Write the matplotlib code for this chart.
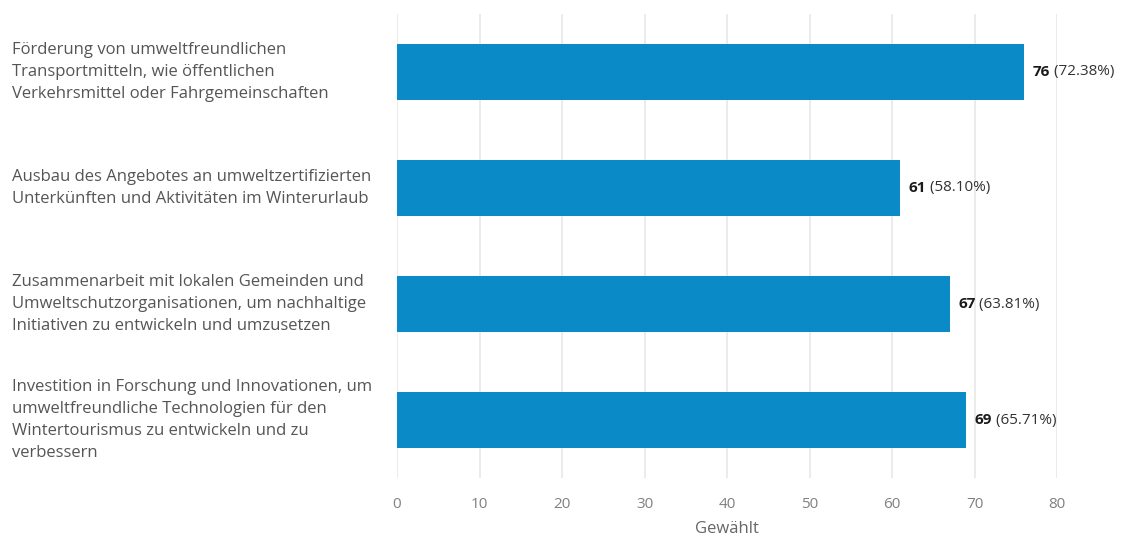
import matplotlib
matplotlib.use("Agg")
import matplotlib.pyplot as plt
from matplotlib.transforms import blended_transform_factory

plt.rcParams['font.family'] = ['Open Sans', 'DejaVu Sans']

labels = [
    "Förderung von umweltfreundlichen\nTransportmitteln, wie öffentlichen\nVerkehrsmittel oder Fahrgemeinschaften",
    "Ausbau des Angebotes an umweltzertifizierten\nUnterkünften und Aktivitäten im Winterurlaub",
    "Zusammenarbeit mit lokalen Gemeinden und\nUmweltschutzorganisationen, um nachhaltige\nInitiativen zu entwickeln und umzusetzen",
    "Investition in Forschung und Innovationen, um\numweltfreundliche Technologien für den\nWintertourismus zu entwickeln und zu\nverbessern",
]
counts = [76, 61, 67, 69]
percents = ["72.38%", "58.10%", "63.81%", "65.71%"]
xticks = [0, 10, 20, 30, 40, 50, 60, 70, 80]

bar_color = '#0a8bc8'

fig = plt.figure(figsize=(11.27, 5.38), dpi=100)
ax = fig.add_axes([0.3523, 0.1115, 0.5856, 0.8625])

ypos = list(range(len(counts)))
ax.barh(ypos, counts, height=0.475, color=bar_color, zorder=2)
ax.set_ylim(3.5, -0.5)
ax.set_xlim(0, 80)
ax.set_xticks(xticks)
ax.set_yticks([])
ax.grid(axis='x', color='#e8e8e8', linewidth=1.2, zorder=0)
for s in ax.spines.values():
    s.set_visible(False)
ax.tick_params(axis='x', length=0, pad=14, labelsize=11, labelcolor='#808080')
ax.set_xlabel("Gewählt", fontsize=12, color='#666666', labelpad=6)

# category labels at left
trans = blended_transform_factory(fig.transFigure, ax.transData)
for y, lab in zip(ypos, labels):
    ax.text(12 / 1127, y, lab, transform=trans,
            ha='left', va='center', fontsize=12, color='#555555', linespacing=1.5)

fig.canvas.draw()
renderer = fig.canvas.get_renderer()
for y, c, p in zip(ypos, counts, percents):
    t = ax.annotate(str(c), (c, y), xytext=(6, 0), textcoords='offset points',
                    ha='left', va='center', fontsize=11, fontweight='bold', color='#1a1a1a')
    w = t.get_window_extent(renderer).width
    ax.annotate(" (" + p + ")", (c, y), xytext=(6 + w * 72 / fig.dpi, 0), textcoords='offset points',
                ha='left', va='center', fontsize=11, color='#333333')

fig.savefig("out.png", dpi=100)
